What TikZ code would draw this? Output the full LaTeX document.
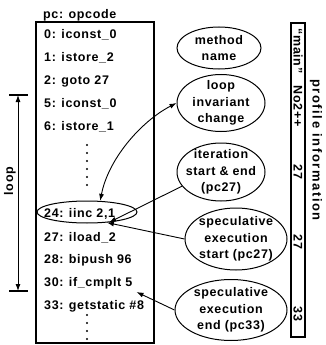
\documentclass[tikz,border=0pt]{standalone}
\usepackage{fontspec}
\setmainfont{Liberation Sans}[LetterSpace=5]
\newfontfamily\spacedfont{Liberation Sans}[LetterSpace=12]
\usetikzlibrary{shapes.geometric,arrows.meta}
\begin{document}
\begin{tikzpicture}[x=1pt,y=-1pt,
  every node/.style={font=\fontsize{12.5}{16.5}\selectfont\bfseries},
  box/.style={draw, line width=1.3pt, inner sep=0pt},
  oval/.style={ellipse, draw, line width=1pt, inner sep=0pt},
  txt/.style={align=center, inner sep=0pt},
  op/.style={anchor=west, inner sep=0pt},
  vert/.style={rotate=-90, inner sep=0pt},
  arr/.style={-{Latex[length=7pt,width=5pt]}, line width=0.9pt},
  darr/.style={{Latex[length=7pt,width=5pt]}-{Latex[length=7pt,width=5pt]}, line width=0.9pt}]
\useasboundingbox (0,0) rectangle (325,345);

% code listing box
\node[box, minimum width=118pt, minimum height=321pt] (code) at (95,182.5) {};
\node[anchor=base west, inner sep=0pt] (title) at (43,19) {pc: opcode};
\node[op] (r0)  at (44,35)  {0: iconst\_0};
\node[op] (r1)  at (44,58)  {1: istore\_2};
\node[op] (r2)  at (44,81)  {2: goto 27};
\node[op] (r5)  at (44,104) {5: iconst\_0};
\node[op] (r6)  at (44,127) {6: istore\_1};
\node[op] (r24) at (44,214) {24: iinc 2,1};
\node[op] (r27) at (44,238) {27: iload\_2};
\node[op] (r28) at (44,260) {28: bipush 96};
\node[op] (r30) at (44,283) {30: if\_cmplt 5};
\node[op] (r33) at (44,306) {33: getstatic \#8};
\foreach \y in {145,153,161,169,177,185} \fill (87,\y) circle (1.2pt);
\foreach \y in {315,323,331,339} \fill (87,\y) circle (1.2pt);
\node[oval, minimum width=100pt, minimum height=22pt] (iinc) at (87,212) {};

% loop bracket
\coordinate (lt) at (18,95);
\coordinate (lb) at (18,291);
\draw[line width=1.3pt] (9,95) -- (28,95);
\draw[line width=1.3pt] (9,291) -- (28,291);
\draw[darr] (lb) -- (lt);
\node[rotate=90, inner sep=0pt] (looplbl) at (10,181) {loop};

% ellipses
\node[oval, minimum width=84pt, minimum height=42pt] (meth) at (219,48) {};
\node[txt] (metht) at (meth.center) {method\\name};
\node[oval, minimum width=88pt, minimum height=57pt] (inv) at (221,103) {};
\node[txt] (invt) at (inv.center) {loop\\invariant\\change};
\node[oval, minimum width=88pt, minimum height=58pt] (iter) at (221,172) {};
\node[txt] (itert) at (iter.center) {iteration\\start \& end\\(pc27)};
\node[oval, minimum width=102pt, minimum height=62pt] (sps) at (236,239) {};
\node[txt] (spst) at (sps.center) {speculative\\execution\\start (pc27)};
\node[oval, minimum width=112pt, minimum height=61pt] (spe) at (231,310) {};
\node[txt] (spet) at (spe.center) {speculative\\execution\\end (pc33)};

% profile column
\node[box, minimum width=14pt, minimum height=314pt] (prof) at (298,180) {};
\node[vert] (p1) at (298,51)  {``main''};
\node[vert] (p2) at (298,106) {No2++};
\node[vert] (p3) at (298,172) {27};
\node[vert] (p4) at (298,242) {27};
\node[vert] (p5) at (298,314) {33};
\node[vert, font=\spacedfont\fontsize{13}{16}\selectfont\bfseries] (plbl) at (316,150) {profile information};

% connectors
\draw[darr] (inv.west) .. controls (140,122) and (108,160) .. (iinc.40);
\draw[arr] (iter.200) -- (iinc.-25);
\draw[arr] (sps.west) -- (iinc.-28);
\coordinate (r30end) at ([shift={(4pt,-3pt)}]r30.south east);
\draw[arr] (spe.west) -- (r30end);
\end{tikzpicture}
\end{document}
